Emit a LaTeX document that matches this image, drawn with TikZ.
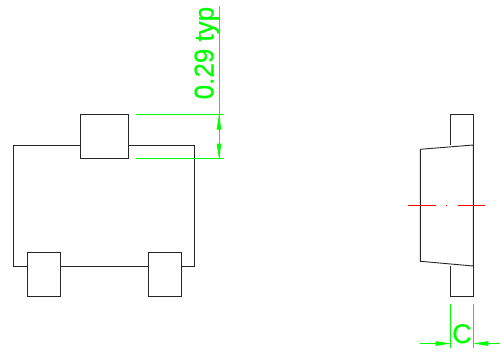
\documentclass[tikz,border=0pt]{standalone}
\usepackage{xcolor}
\usetikzlibrary{arrows.meta}
\font\typfont="Liberation Sans:embolden=0.4" at 26pt
\font\cfont="Liberation Sans:embolden=0.4" at 27pt
\definecolor{dimgreen}{RGB}{0,255,0}
\tikzset{
  outline/.style={draw=black!85,line width=0.9pt,line join=miter},
  pad/.style={outline,fill=white},
  dimline/.style={draw=dimgreen,line width=0.8pt},
  dimtip/.style={-{Triangle[length=15pt,width=4.5pt,fill=dimgreen]}},
  axisline/.style={draw=red,line width=1pt},
  dimtext/.style={text=dimgreen,inner sep=0pt}
}
\begin{document}
\begin{tikzpicture}[x=1pt,y=-1pt]
\useasboundingbox (0,0) rectangle (500,351);
% front view
\draw[outline] (13.5,145) rectangle (194.7,266);
\draw[pad] (80,114.7) rectangle (128.3,158.5);
\draw[pad] (27,252.5) rectangle (60.5,296.3);
\draw[pad] (148,252.5) rectangle (181.5,296.3);
% side view
\draw[outline] (450.7,145) -- (450.7,114.7) -- (473.3,114.7) -- (473.3,145);
\draw[outline] (450.7,266) -- (450.7,296.3) -- (473.3,296.3) -- (473.3,266);
\draw[outline] (420.3,149.3) -- (473.3,145) -- (473.3,266) -- (420.3,261.3) -- cycle;
% centre line
\draw[axisline] (408,205) -- (435.5,205);
\draw[axisline] (445.5,205) -- (447,205);
\draw[axisline] (457.7,205) -- (485,205);
% height dimension
\coordinate (extTopL) at (135.5,114.7);
\coordinate (extTopR) at (224,114.7);
\coordinate (extBotL) at (135.5,158.7);
\coordinate (extBotR) at (224,158.7);
\coordinate (dimTop) at (219,6);
\coordinate (dimUp) at (219,114.7);
\coordinate (dimDown) at (219,158.7);
\draw[dimline] (extTopL) -- (extTopR);
\draw[dimline] (extBotL) -- (extBotR);
\draw[dimline] (dimTop) -- (dimDown);
\draw[dimline,dimtip] (219,137) -- (dimUp);
\draw[dimline,dimtip] (219,137) -- (dimDown);
\node[dimtext,rotate=90,anchor=base west] (lblTyp) at (213.5,99.5) {\scalebox{1}[1.05]{\typfont 0.29 typ}};
% width dimension
\coordinate (extCL1) at (450.7,304);
\coordinate (extCL2) at (450.7,348);
\coordinate (extCR1) at (473.3,304);
\coordinate (extCR2) at (473.3,348);
\coordinate (arrL) at (420,343.5);
\coordinate (arrLtip) at (450.7,343.5);
\coordinate (arrR) at (500,343.5);
\coordinate (arrRtip) at (473.3,343.5);
\draw[dimline] (extCL1) -- (extCL2);
\draw[dimline] (extCR1) -- (extCR2);
\draw[dimline,dimtip] (arrL) -- (arrLtip);
\draw[dimline,dimtip] (arrR) -- (arrRtip);
\node[dimtext,anchor=base] (lblC) at (462,343) {\cfont C};
\end{tikzpicture}
\end{document}
